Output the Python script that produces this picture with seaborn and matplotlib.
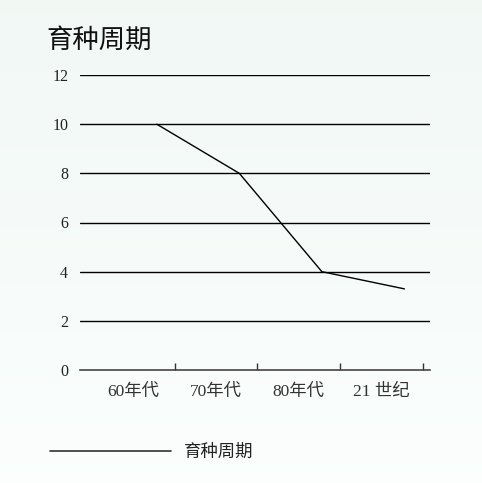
import numpy as np
import pandas as pd
import matplotlib
matplotlib.use("Agg")
import matplotlib.pyplot as plt
import seaborn as sns

# Breeding cycle by era
eras = ["60年代", "70年代", "80年代", "21 世纪"]
cycle_years = [10, 8, 4, 3.3]
y_ticks = [0, 2, 4, 6, 8, 10, 12]
series_name = "育种周期"

sns.set_theme(style="white")
plt.rcParams["font.family"] = ["Liberation Serif", "Noto Sans CJK SC", "DejaVu Sans"]

fig = plt.figure(figsize=(4.82, 4.83), dpi=100)

# soft pale-green backdrop
grad = np.linspace(0, 1, 256).reshape(-1, 1)
top = np.array([0.945, 0.973, 0.960])
bot = np.array([0.985, 0.997, 0.992])
bg = top[None, None, :] * (1 - grad[..., None]) + bot[None, None, :] * grad[..., None]
bg_ax = fig.add_axes([0, 0, 1, 1], zorder=-10)
bg_ax.imshow(np.repeat(bg, 4, axis=1), aspect="auto", extent=[0, 1, 0, 1])
bg_ax.axis("off")

W, H = 482, 483
ax = fig.add_axes([80 / W, (H - 370) / H, 350 / W, 295 / H])
ax.patch.set_alpha(0)

df = pd.DataFrame({"era": eras, "years": cycle_years})
df["pos"] = np.arange(len(eras)) + 0.28

sns.lineplot(data=df, x="pos", y="years", ax=ax, color="black", lw=1.0,
             label=series_name, legend=False, zorder=3)

ax.set_xlim(-0.65, 3.59)
ax.set_ylim(0, 12)
ax.set_yticks(y_ticks)
ax.set_yticklabels([str(v) for v in y_ticks], fontsize=11.5,
                   family=["Liberation Serif"])
for v in y_ticks[1:]:
    ax.axhline(v, color="black", lw=1.0, zorder=1)

ax.set_xticks(range(len(eras)))
ax.set_xticklabels(eras, fontsize=12.5,
                   family=["Liberation Serif", "Noto Sans CJK SC"])
ax.set_xticks(np.arange(len(eras)) + 0.5, minor=True)
ax.tick_params(axis="x", which="major", length=0, pad=10, colors="#333333")
ax.tick_params(axis="x", which="minor", length=5, width=1.0, direction="in",
               color="#333333", bottom=True)
ax.tick_params(axis="y", length=0, pad=8.5, colors="#222222")

for s in ["top", "right", "left"]:
    ax.spines[s].set_visible(False)
ax.spines["bottom"].set_color("#444444")
ax.spines["bottom"].set_linewidth(1.2)
ax.set_xlabel("")
ax.set_ylabel("")

fig.text(46 / W, 1 - 40 / H, series_name, fontsize=19, va="center", ha="left",
         family=["Noto Sans CJK SC"], color="#111111")

leg = fig.legend(handles=ax.get_lines()[:1], labels=[series_name],
                 loc="center left", bbox_to_anchor=(34 / W, 1 - 452 / H),
                 frameon=False, handlelength=7.0, handletextpad=0.75,
                 prop={"family": "Noto Sans CJK SC", "size": 12.5})
for t in leg.get_texts():
    t.set_color("#222222")
for h in leg.legend_handles:
    h.set_color("#333333")
    h.set_linewidth(1.2)

fig.savefig("out.png", dpi=100)
